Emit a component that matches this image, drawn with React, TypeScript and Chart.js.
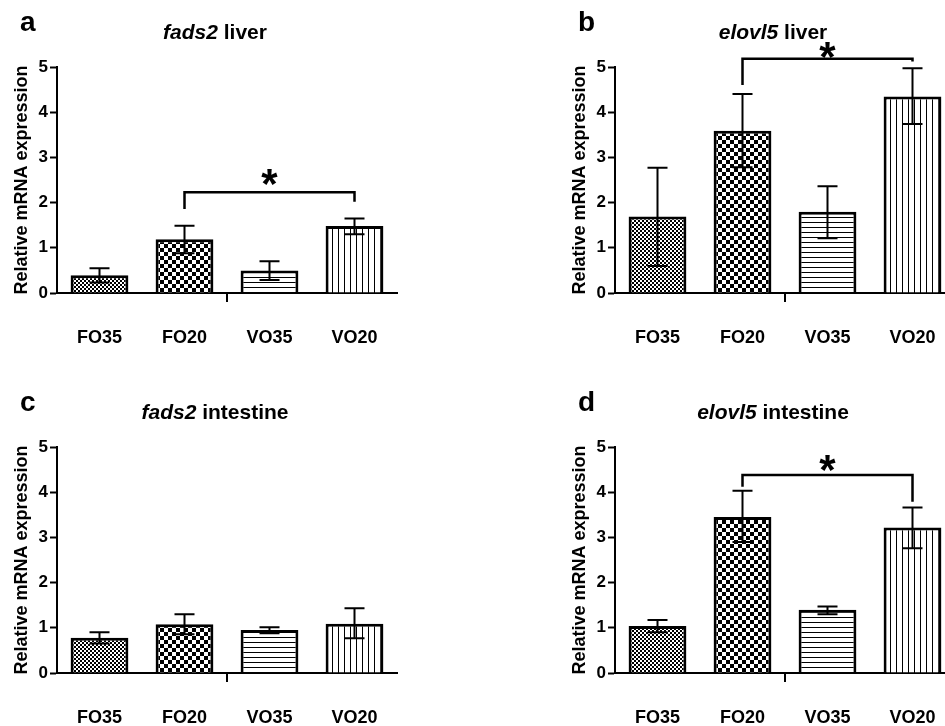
import React, { useEffect, useRef } from "react";
import { Chart, registerables } from "chart.js";

Chart.register(...registerables);

const FONT = '"Liberation Sans", Arial, Helvetica, sans-serif';

const categories = ["FO35", "FO20", "VO35", "VO20"];
const yMin = 0;
const yMax = 5;
const yStep = 1;
const yAxisTitle = "Relative mRNA expression";

// a: fads2 liver
const fads2LiverMean = [0.39, 1.19, 0.5, 1.48];
const fads2LiverUpper = [0.55, 1.49, 0.7, 1.65];
const fads2LiverLower = [0.23, 0.88, 0.29, 1.3];
// [fromIndex, toIndex, bracketY, leftEndY, rightEndY, starY]
const fads2LiverSig = [1, 3, 2.23, 1.86, 2.02, 2.57];

// b: elovl5 liver
const elovl5LiverMean = [1.69, 3.59, 1.8, 4.35];
const elovl5LiverUpper = [2.77, 4.4, 2.36, 4.97];
const elovl5LiverLower = [0.6, 2.78, 1.21, 3.74];
const elovl5LiverSig = [1, 3, 5.18, 4.6, 5.12, 5.37];

// c: fads2 intestine
const fads2IntestineMean = [0.78, 1.08, 0.95, 1.09];
const fads2IntestineUpper = [0.9, 1.3, 1.01, 1.43];
const fads2IntestineLower = [0.65, 0.86, 0.88, 0.77];
const fads2IntestineSig: number[] = [];

// d: elovl5 intestine
const elovl5IntestineMean = [1.04, 3.45, 1.4, 3.22];
const elovl5IntestineUpper = [1.17, 4.03, 1.47, 3.66];
const elovl5IntestineLower = [0.9, 2.9, 1.3, 2.76];
const elovl5IntestineSig = [1, 3, 4.38, 4.12, 3.79, 4.64];

type Panel = {
  letter: string;
  gene: string;
  tissue: string;
  mean: number[];
  upper: number[];
  lower: number[];
  sig: number[];
  left: number;
  top: number;
};

const panels: Panel[] = [
  { letter: "a", gene: "fads2", tissue: "liver", mean: fads2LiverMean, upper: fads2LiverUpper, lower: fads2LiverLower, sig: fads2LiverSig, left: 0, top: 0 },
  { letter: "b", gene: "elovl5", tissue: "liver", mean: elovl5LiverMean, upper: elovl5LiverUpper, lower: elovl5LiverLower, sig: elovl5LiverSig, left: 558, top: 0 },
  { letter: "c", gene: "fads2", tissue: "intestine", mean: fads2IntestineMean, upper: fads2IntestineUpper, lower: fads2IntestineLower, sig: fads2IntestineSig, left: 0, top: 380 },
  { letter: "d", gene: "elovl5", tissue: "intestine", mean: elovl5IntestineMean, upper: elovl5IntestineUpper, lower: elovl5IntestineLower, sig: elovl5IntestineSig, left: 558, top: 380 },
];

const CW = 420;
const CH = 380;

function makePattern(kind: string): CanvasPattern | string {
  const c = document.createElement("canvas");
  const ctx = c.getContext("2d");
  if (!ctx) return "#888";
  if (kind === "fine") {
    c.width = 4; c.height = 4;
    ctx.fillStyle = "#fff"; ctx.fillRect(0, 0, 4, 4);
    ctx.fillStyle = "#000"; ctx.fillRect(0, 0, 2, 2); ctx.fillRect(2, 2, 2, 2);
  } else if (kind === "coarse") {
    c.width = 8; c.height = 8;
    ctx.fillStyle = "#fff"; ctx.fillRect(0, 0, 8, 8);
    ctx.fillStyle = "#000"; ctx.fillRect(0, 0, 4, 4); ctx.fillRect(4, 4, 4, 4);
  } else if (kind === "hlines") {
    c.width = 5; c.height = 5;
    ctx.fillStyle = "#fff"; ctx.fillRect(0, 0, 5, 5);
    ctx.fillStyle = "#000"; ctx.fillRect(0, 2, 5, 1);
  } else {
    c.width = 6; c.height = 6;
    ctx.fillStyle = "#fff"; ctx.fillRect(0, 0, 6, 6);
    ctx.fillStyle = "#000"; ctx.fillRect(2, 0, 1, 6);
  }
  const p = ctx.createPattern(c, "repeat");
  return p || "#888";
}

function makeOverlay(panel: Panel) {
  return {
    id: "overlay_" + panel.letter,
    afterDatasetsDraw(chart: any) {
      const { ctx, chartArea, scales } = chart;
      const x = scales.x;
      const y = scales.y;
      ctx.save();
      ctx.strokeStyle = "#000";
      ctx.lineWidth = 2;
      ctx.lineCap = "butt";
      panel.upper.forEach((u, i) => {
        const px = x.getPixelForValue(i);
        const yu = y.getPixelForValue(u);
        const yl = y.getPixelForValue(panel.lower[i]);
        ctx.beginPath();
        ctx.moveTo(px, yu); ctx.lineTo(px, yl);
        ctx.moveTo(px - 10, yu); ctx.lineTo(px + 10, yu);
        ctx.moveTo(px - 10, yl); ctx.lineTo(px + 10, yl);
        ctx.stroke();
      });
      // middle tick under x axis
      const mid = (chartArea.left + chartArea.right) / 2;
      ctx.beginPath();
      ctx.moveTo(mid, chartArea.bottom);
      ctx.lineTo(mid, chartArea.bottom + 9);
      ctx.stroke();
      // significance bracket
      if (panel.sig.length) {
        const [from, to, by, ly, ry, sy] = panel.sig;
        const x1 = x.getPixelForValue(from);
        const x2 = x.getPixelForValue(to);
        ctx.lineWidth = 2.5;
        ctx.lineJoin = "miter";
        ctx.beginPath();
        ctx.moveTo(x1, y.getPixelForValue(ly));
        ctx.lineTo(x1, y.getPixelForValue(by));
        ctx.lineTo(x2, y.getPixelForValue(by));
        ctx.lineTo(x2, y.getPixelForValue(ry));
        ctx.stroke();
        ctx.fillStyle = "#000";
        ctx.font = `bold 42px ${FONT}`;
        ctx.textAlign = "center";
        ctx.textBaseline = "alphabetic";
        const m = ctx.measureText("*");
        const asc = m.actualBoundingBoxAscent;
        const desc = m.actualBoundingBoxDescent;
        const cy = y.getPixelForValue(sy);
        ctx.fillText("*", (x1 + x2) / 2, cy + (asc - desc) / 2);
      }
      ctx.restore();
    },
    afterDraw(chart: any) {
      const ctx = chart.ctx;
      ctx.save();
      ctx.fillStyle = "#000";
      ctx.textBaseline = "alphabetic";
      ctx.textAlign = "left";
      const italic = `italic bold 21px ${FONT}`;
      const bold = `bold 21px ${FONT}`;
      ctx.font = italic;
      const w1 = ctx.measureText(panel.gene).width;
      ctx.font = bold;
      const rest = " " + panel.tissue;
      const w2 = ctx.measureText(rest).width;
      const start = 215 - (w1 + w2) / 2;
      ctx.font = italic;
      ctx.fillText(panel.gene, start, 39);
      ctx.font = bold;
      ctx.fillText(rest, start + w1, 39);
      ctx.font = `bold 28px ${FONT}`;
      ctx.fillText(panel.letter, 20, 31);
      ctx.restore();
    },
  };
}

function PanelChart({ panel }: { panel: Panel }) {
  const ref = useRef<HTMLCanvasElement | null>(null);
  useEffect(() => {
    if (!ref.current) return;
    const fills = [makePattern("fine"), makePattern("coarse"), makePattern("hlines"), makePattern("vlines")];
    const chart = new Chart(ref.current, {
      type: "bar",
      data: {
        labels: categories,
        datasets: [
          {
            data: panel.mean,
            backgroundColor: fills as any,
            borderColor: "#000",
            borderWidth: 3,
            categoryPercentage: 1,
            barPercentage: 0.68,
          },
        ],
      },
      options: {
        animation: false,
        responsive: false,
        maintainAspectRatio: false,
        events: [],
        layout: { padding: { top: 67, right: 23, bottom: 0, left: 0 } },
        plugins: { legend: { display: false }, tooltip: { enabled: false }, title: { display: false } },
        scales: {
          x: {
            type: "category",
            offset: true,
            z: 1,
            grid: { display: false, drawTicks: false },
            border: { display: true, color: "#000", width: 2 },
            ticks: { color: "#000", padding: 34, font: { family: FONT, size: 18, weight: "bold" }, maxRotation: 0 },
            afterFit: (s: any) => { s.height = CH - 293; },
          },
          y: {
            min: yMin,
            max: yMax,
            grid: { drawOnChartArea: false, drawTicks: true, tickLength: 7, tickWidth: 2, tickColor: "#000", color: "#000" },
            border: { display: true, color: "#000", width: 2 },
            ticks: { stepSize: yStep, color: "#000", padding: 2, font: { family: FONT, size: 17, weight: "bold" } },
            title: { display: true, text: yAxisTitle, color: "#000", font: { family: FONT, size: 18, weight: "bold" }, padding: { top: 11, bottom: 0 } },
            afterFit: (s: any) => { s.width = 57; },
          },
        },
      } as any,
      plugins: [makeOverlay(panel)],
    });
    return () => chart.destroy();
  }, [panel]);
  return (
    <canvas
      ref={ref}
      width={CW}
      height={CH}
      style={{ position: "absolute", left: panel.left, top: panel.top, width: CW, height: CH }}
    />
  );
}

export default function App() {
  return (
    <div style={{ position: "fixed", left: 0, top: 0, width: 945, height: 726, overflow: "hidden", background: "#fff" }}>
      {panels.map((p) => (
        <PanelChart key={p.letter} panel={p} />
      ))}
    </div>
  );
}
